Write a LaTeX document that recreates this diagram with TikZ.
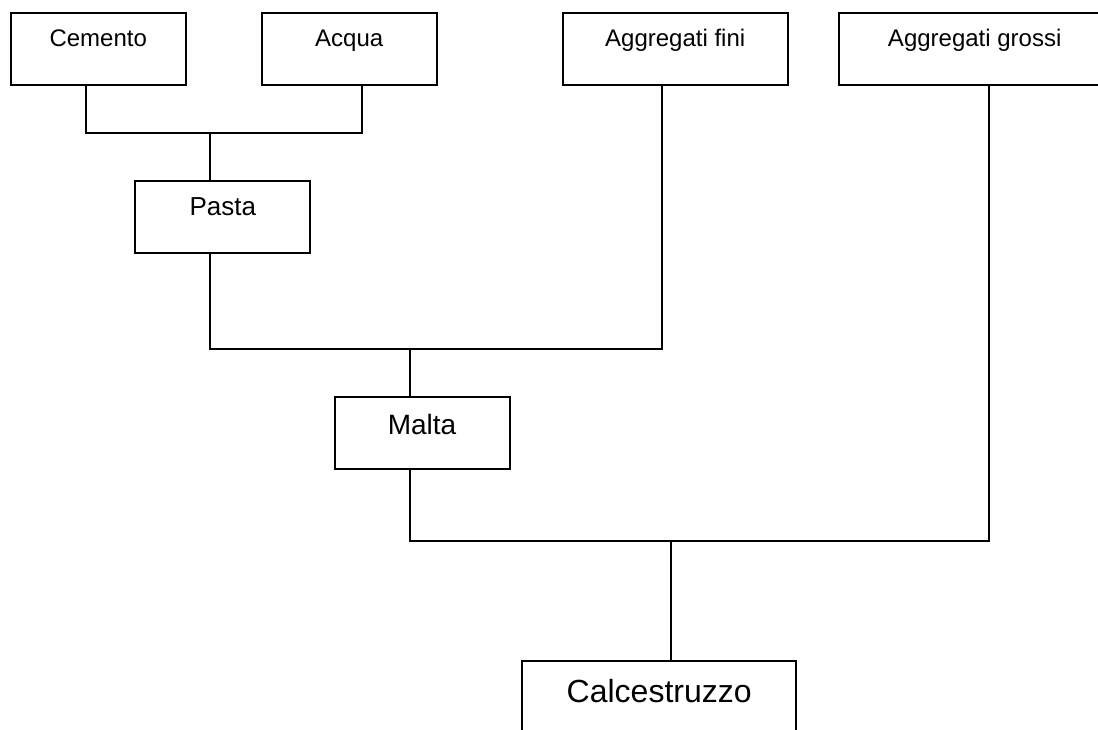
\documentclass[tikz,border=0pt]{standalone}
\usepackage{fontspec}
\setmainfont{Liberation Sans}
\usetikzlibrary{positioning}

\begin{document}
\begin{tikzpicture}[
  x=0.5pt, y=-0.5pt,
  every node/.style={font=\fontsize{12}{14}\selectfont},
  mixbox/.style={draw, line width=1pt, inner sep=0pt, minimum width=87.5pt,
                 minimum height=36pt, text height=9pt, text depth=11pt},
  wire/.style={line width=1pt}
]
\useasboundingbox (0,0) rectangle (1098,729);
\clip (0,0) rectangle (1098,729);

% ingredienti
\node[mixbox] (cem) at (98.2,48.7) {Cemento};
\node[mixbox, right=37pt of cem] (acq) {Acqua};
\node[mixbox, right=62pt of acq, minimum width=112.5pt] (fini) {Aggregati fini};
\node[mixbox, right=24.5pt of fini, minimum width=136pt] (gros) {Aggregati grossi};

% impasti
\node[mixbox, font=\fontsize{13}{15}\selectfont, text height=9.5pt, text depth=10.5pt]
  (pasta) at (222.8,216.6) {Pasta};
\node[mixbox, font=\fontsize{14}{16}\selectfont, text height=10pt, text depth=8pt]
  (malta) at (422,432.9) {Malta};
\node[mixbox, minimum width=137pt, font=\fontsize{16}{18}\selectfont,
      text height=12pt, text depth=7pt] (calc) at (659.2,697) {Calcestruzzo};

% collegamenti
\coordinate (j1) at (210,132.7);
\coordinate (j2) at (410,349);
\coordinate (j3) at (671,540.7);
\draw[wire] ([xshift=-6pt]cem.south) |- (j1) -| ([xshift=6.25pt]acq.south);
\draw[wire] (j1) -- (j1 |- pasta.north);
\draw[wire] ([xshift=-6.4pt]pasta.south) |- (j2) -| ([xshift=-6.4pt]fini.south);
\draw[wire] (j2) -- (j2 |- malta.north);
\draw[wire] ([xshift=-6pt]malta.south) |- (j3) -| ([xshift=7.15pt]gros.south);
\draw[wire] (j3) -- (j3 |- calc.north);

\end{tikzpicture}
\end{document}
